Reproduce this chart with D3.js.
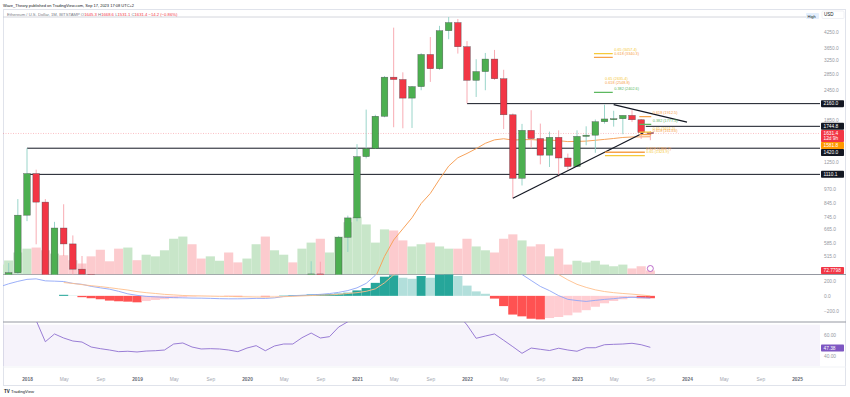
<!DOCTYPE html>
<html>
<head>
<meta charset="utf-8">
<script src="https://cdn.jsdelivr.net/npm/d3@7"></script>
<style>
  body { margin: 0; background: #fff; }
  text { font-family: "Liberation Sans", Arial, sans-serif; }
</style>
</head>
<body>
<div id="chart"></div>
<script>
// monthly ETH/USD, Oct 2017 .. Sep 2023 (index 0 = Oct 2017)
const open = [301, 305, 440,
  756, 1118, 855, 395, 670, 577, 455, 433, 282, 232, 198, 113,
  133, 107, 136, 141, 162, 268, 290, 218, 172, 180, 183, 151,
  130, 180, 218, 133, 206, 231, 225, 346, 435, 360, 386, 614,
  737, 1312, 1416, 1918, 2770, 2710, 2275, 2535, 3430, 3000, 4290, 4630,
  3690, 2690, 2920, 3285, 2730, 1945, 1070, 1680, 1555, 1330, 1573, 1295,
  1196, 1587, 1605, 1822, 1870, 1874, 1934, 1856, 1645.3];
const high = [350, 482, 880,
  1420, 1160, 880, 710, 838, 625, 515, 435, 300, 237, 222, 157,
  160, 165, 148, 185, 286, 365, 318, 240, 225, 199, 195, 155,
  185, 288, 253, 228, 227, 255, 348, 490, 488, 418, 622, 753,
  1475, 2042, 1945, 2800, 4415, 2900, 2550, 3470, 4040, 4490, 4880, 4790,
  3890, 3280, 3480, 3580, 2970, 1970, 1785, 2030, 1790, 1660, 1680, 1350,
  1680, 1745, 1860, 2140, 2020, 1930, 2030, 1870, 1668.6];
const low = [285, 283, 415,
  715, 575, 367, 363, 515, 415, 427, 250, 167, 190, 102, 81,
  101, 102, 127, 141, 155, 230, 190, 165, 152, 153, 131, 117,
  127, 179, 90, 130, 177, 215, 222, 345, 308, 335, 370, 535,
  714, 1290, 1410, 1900, 1730, 1713, 1718, 2450, 2650, 2970, 3960, 3460,
  2165, 2300, 2450, 2700, 1700, 887, 1000, 1420, 1220, 1190, 1085, 1160,
  1190, 1460, 1360, 1790, 1740, 1620, 1820, 1550, 1531.1];
const close = [305, 440, 756,
  1118, 855, 395, 670, 577, 455, 433, 282, 232, 198, 113, 133,
  107, 136, 141, 162, 268, 290, 218, 172, 180, 183, 151, 130,
  180, 218, 133, 206, 231, 225, 346, 435, 360, 386, 614, 737,
  1312, 1416, 1918, 2770, 2710, 2275, 2535, 3430, 3000, 4290, 4630, 3690,
  2690, 2920, 3285, 2730, 1945, 1070, 1680, 1555, 1330, 1573, 1295, 1196,
  1587, 1605, 1822, 1870, 1874, 1934, 1856, 1645.3, 1631.4];
// volume, thousands of ETH
const volume = [180, 255, 400,
  470, 490, 440, 380, 350, 260, 200, 330, 450, 240, 470, 490,
  260, 360, 330, 440, 650, 690, 550, 290, 330, 250, 400, 220,
  290, 550, 690, 440, 360, 220, 470, 580, 650, 400, 690, 950,
  1050, 910, 580, 820, 800, 620, 510, 550, 580, 510, 470, 470,
  650, 510, 440, 400, 650, 730, 620, 510, 550, 330, 470, 180,
  250, 220, 250, 180, 150, 180, 110, 150, 72.7798];
// moving average drawn in orange on the price pane
const ema = [null, null, null,
  null, null, null, null, null, null, null, null, null, null, null, null,
  null, null, null, null, null, null, null, null, null, null, null, null,
  null, null, null, null, null, null, null, null, null, null, null, null,
  null, 360, 421, 513, 599, 665, 738, 844, 928, 1060, 1200, 1298,
  1352, 1414, 1487, 1536, 1552, 1533, 1539, 1540, 1532, 1533, 1524, 1511,
  1514, 1518, 1530, 1543, 1556, 1571, 1578, 1580, 1581.8];
const macd = [121, 162, 195,
  222, 229, 202, 198, 193, 168, 155, 128, 108, 90, 61, 27,
  7, -7, -13, -20, -24, -27, -30, -31, -34, -38, -40, -40,
  -38, -34, -35, -27, -9, 0, 7, 13, 20, 31, 47, 71,
  108, 168, 276, 418, 520, 600, 640, 680, 720, 780, 840, 820,
  720, 660, 600, 540, 460, 377, 288, 207, 127, 70, 3, -47,
  -63, -75, -61, -48, -38, -24, -20, -24, -31];
const signal = [null, null, null,
  null, null, null, null, 179, 167, 151, 137, 125, 110, 94, 78,
  57, 43, 32, 20, 13, 5, 1, -1, -4, -7, -8, -11,
  -13, -15, -17, -15, -11, -7, -1, 4, 9, 13, 20, 32,
  43, 61, 94, 175, 283, 370, 440, 500, 560, 610, 650, 680,
  690, 680, 660, 630, 590, 540, 500, 460, 420, 350, 287, 215,
  155, 114, 81, 58, 43, 32, 23, 12, 0];
const hist = [null, null, null,
  null, null, null, null, 14, 4, -18, -32, -46, -64, -73, -78,
  -87, -70, -55, -45, -32, -18, -10, -5, -4, -3, -3, -8,
  -5, -3, -8, -4, 4, 8, 12, 18, 22, 24, 30, 42,
  73, 105, 175, 258, 276, 244, 230, 267, 244, 290, 313, 267,
  138, 60, 28, -37, -138, -252, -276, -308, -317, -299, -285, -262,
  -225, -193, -147, -100, -69, -46, -23, -32, -32];
const rsi = [null, null, null,
  84, 74, 53.5, 61, 57.1, 54.2, 53.2, 48.4, 46.8, 45.5, 43.9, 44.3,
  43.6, 44.5, 44.8, 45.5, 51.3, 52.3, 48.4, 46.5, 46.8, 46.5, 45.5, 43.9,
  47.4, 49.7, 44.8, 49.4, 51.3, 51.3, 57.4, 61.9, 57.1, 58.4, 67.7, 72.8,
  78, 80, 82, 85, 84, 80, 79, 83, 81, 85, 86, 80,
  69.7, 56.8, 59, 61, 54.9, 48.7, 42.3, 47.4, 46.2, 45, 47.2, 45.5,
  44.3, 47.7, 47.7, 50.6, 51, 51.3, 52, 50.6, 48.1, 47.38];

// time axis: every fourth month from Jan 2018
const tickLabels = ['2018', 'May', 'Sep', '2019', 'May', 'Sep', '2020', 'May', 'Sep',
  '2021', 'May', 'Sep', '2022', 'May', 'Sep', '2023', 'May', 'Sep', '2024', 'May', 'Sep', '2025'];
const priceTicks = [4250, 3650, 3250, 2850, 2450, 1850, 1250, 970, 845, 745, 665, 585, 515];
const macdTicks = [200, 0, -200];
const rsiTicks = [60, 40];

// drawn levels and trend lines (month index, price)
const levelPrices = [2160.0, 1744.8, 1420.0, 1110.1];
const levelStart = [51, 70.5, 3, 3];
const trendUpper = [[67, 2140], [75, 1814]];
const trendLower = [[56, 887], [70.2, 1639]];

// fibonacci labels
const fibLevels = ['0.65', '0.618', '0.65', '0.618', '0.382', '0.618', '0.382', '0.65', '0.618', '0.618', '0.65'];
const fibPrices = [3457.4, 3340.3, 2635.4, 2548.8, 2402.6, 1912.5, 1777.3, 1651.5, 1613.0, 1366.7, 1323.9];
const fibStart = [64.85, 64.85, null, null, 64.85, 69.8, 69.8, 69.8, 69.8, 66.05, 66.05];
const fibEnd = [66.9, 66.9, 65.9, 65.9, 66.9, 71.1, 71.1, 71.1, 71.1, 70.4, 70.4];

const width = 850;
const height = 397;
const plotL = 3, plotR = 820;
const mainTop = 9, mainBot = 274.5, macdBot = 322, rsiBot = 367;
const up = '#4caf50', down = '#f23645';
const fibColor = { '0.65': '#f5c93a', '0.618': '#f7a24a', '0.382': '#5cb85f' };

const svg = d3.select('#chart')
  .append('svg')
  .attr('width', width)
  .attr('height', height);

const x = d3.scaleLinear().domain([3, 63]).range([27, 577]);
const y = d3.scaleLog().domain([515, 4250]).range([256, 31.7]);
const vy = d3.scaleLinear().domain([0, 1000]).range([mainBot, mainBot - 55]);
const my = d3.scaleLinear().domain([-200, 200]).range([310.7, 281]);
const ry = d3.scaleLinear().domain([40, 60]).range([355.7, 335]);
const step = x(1) - x(0);
const idx = d3.range(close.length);

const defs = svg.append('defs');
[['clip-main', mainTop, mainBot], ['clip-macd', mainBot, macdBot], ['clip-rsi', macdBot, rsiBot]]
  .forEach(([id, t, b]) => {
    defs.append('clipPath').attr('id', id)
      .append('rect').attr('x', plotL).attr('y', t).attr('width', plotR - plotL).attr('height', b - t);
  });

// header
svg.append('text').attr('x', 3).attr('y', 6.5)
  .style('font-size', '4px').style('fill', '#131722')
  .text('Wave_Theory published on TradingView.com, Sep 17, 2023 17:08 UTC+2');

const legend = svg.append('text').attr('x', 7).attr('y', 16)
  .style('font-size', '4.2px').style('fill', '#787b86');
legend.append('tspan').text('Ethereum / U.S. Dollar, 1M, BITSTAMP  ');
[['O', '1645.3'], ['H', '1668.6'], ['L', '1531.1'], ['C', '1631.4']].forEach(([k, v]) => {
  legend.append('tspan').text(k);
  legend.append('tspan').style('fill', down).text(v + '  ');
});
legend.append('tspan').style('fill', down).text('\u221214.2 (\u22120.86%)');

// frame and pane separators
svg.append('rect').attr('x', 3.5).attr('y', 9.5).attr('width', 842).attr('height', 376)
  .attr('fill', 'none').attr('stroke', '#e0e3eb').attr('stroke-width', 1);
[mainBot, macdBot].forEach(v => {
  svg.append('line').attr('x1', 3).attr('x2', 846).attr('y1', v).attr('y2', v)
    .attr('stroke', '#9598a1').attr('stroke-width', 1);
});

// ---------- main pane ----------
const main = svg.append('g').attr('clip-path', 'url(#clip-main)');

main.selectAll('.vol')
  .data(idx)
  .enter()
  .append('rect')
  .attr('class', 'vol')
  .attr('x', i => x(i) - step / 2)
  .attr('width', step)
  .attr('y', i => vy(volume[i]))
  .attr('height', i => mainBot - vy(volume[i]))
  .attr('fill', i => close[i] >= open[i] ? '#c8e6c9' : '#fccbce');

// all-time high marker line
main.append('line')
  .attr('x1', plotL).attr('x2', 806)
  .attr('y1', y(d3.max(high))).attr('y2', y(d3.max(high)))
  .attr('stroke', '#c9ccd4').attr('stroke-width', 0.8);

// last price line
main.append('line')
  .attr('x1', plotL).attr('x2', plotR)
  .attr('y1', y(close[close.length - 1])).attr('y2', y(close[close.length - 1]))
  .attr('stroke', down).attr('stroke-opacity', 0.45).attr('stroke-width', 0.7)
  .attr('stroke-dasharray', '1,1.5');

main.selectAll('.level')
  .data(levelPrices)
  .enter()
  .append('line')
  .attr('class', 'level')
  .attr('x1', (d, i) => x(levelStart[i]))
  .attr('x2', plotR)
  .attr('y1', d => y(d))
  .attr('y2', d => y(d))
  .attr('stroke', '#131722')
  .attr('stroke-width', 1);

main.append('path')
  .datum(idx.filter(i => ema[i] != null))
  .attr('fill', 'none')
  .attr('stroke', '#f7a35c')
  .attr('stroke-width', 1)
  .attr('d', d3.line().x(i => x(i)).y(i => y(ema[i])));

const candles = main.selectAll('.candle')
  .data(idx)
  .enter()
  .append('g')
  .attr('class', 'candle');

candles.append('line')
  .attr('x1', i => x(i)).attr('x2', i => x(i))
  .attr('y1', i => y(high[i])).attr('y2', i => y(low[i]))
  .attr('stroke', i => close[i] >= open[i] ? '#8fd0c4' : '#f7a3ab')
  .attr('stroke-width', 0.9);

candles.append('rect')
  .attr('x', i => x(i) - 3.3)
  .attr('width', 6.6)
  .attr('y', i => y(Math.max(open[i], close[i])))
  .attr('height', i => Math.max(1, y(Math.min(open[i], close[i])) - y(Math.max(open[i], close[i]))))
  .attr('fill', i => close[i] >= open[i] ? up : down)
  .attr('stroke', '#3d3f45')
  .attr('stroke-opacity', 0.7)
  .attr('stroke-width', 0.5);

[trendUpper, trendLower].forEach(t => {
  main.append('line')
    .attr('x1', x(t[0][0])).attr('y1', y(t[0][1]))
    .attr('x2', x(t[1][0])).attr('y2', y(t[1][1]))
    .attr('stroke', '#131722').attr('stroke-width', 1.2);
});

fibPrices.forEach((p, i) => {
  const c = fibColor[fibLevels[i]];
  if (fibStart[i] != null) {
    main.append('line')
      .attr('x1', x(fibStart[i])).attr('x2', x(fibEnd[i]))
      .attr('y1', y(p)).attr('y2', y(p))
      .attr('stroke', c).attr('stroke-width', 1.3);
  }
  main.append('text')
    .attr('x', x(fibEnd[i]) + 1.5)
    .attr('y', y(p) - 2.5)
    .style('font-size', '3.8px')
    .style('fill', c)
    .text(`${fibLevels[i]} (${p.toFixed(1)})`);
});

// event marker
main.append('circle')
  .attr('cx', x(close.length - 1)).attr('cy', 268.5).attr('r', 3)
  .attr('fill', '#fff').attr('stroke', '#ab47bc').attr('stroke-width', 0.8);

// ---------- MACD pane ----------
const macdG = svg.append('g').attr('clip-path', 'url(#clip-macd)');

macdG.selectAll('.hist')
  .data(idx.filter(i => hist[i] != null))
  .enter()
  .append('rect')
  .attr('class', 'hist')
  .attr('x', i => x(i) - step / 2)
  .attr('width', step)
  .attr('y', i => my(Math.max(0, hist[i])))
  .attr('height', i => Math.abs(my(hist[i]) - my(0)))
  .attr('fill', i => {
    const prev = hist[i - 1] == null ? 0 : hist[i - 1];
    if (hist[i] >= 0) return hist[i] > prev ? '#26a69a' : '#b2dfdb';
    return hist[i] <= prev ? '#ff5252' : '#ffcdd2';
  });

macdG.append('path')
  .datum(idx)
  .attr('fill', 'none')
  .attr('stroke', '#8fa6f7')
  .attr('stroke-width', 0.9)
  .attr('d', d3.line().x(i => x(i)).y(i => my(macd[i])));

macdG.append('path')
  .datum(idx.filter(i => signal[i] != null))
  .attr('fill', 'none')
  .attr('stroke', '#ffbf8c')
  .attr('stroke-width', 0.9)
  .attr('d', d3.line().x(i => x(i)).y(i => my(signal[i])));

// ---------- RSI pane ----------
const rsiG = svg.append('g').attr('clip-path', 'url(#clip-rsi)');

rsiG.append('rect')
  .attr('x', plotL).attr('width', plotR - plotL)
  .attr('y', ry(70)).attr('height', ry(30) - ry(70))
  .attr('fill', '#7e57c2').attr('fill-opacity', 0.07);

rsiG.append('path')
  .datum(idx.filter(i => rsi[i] != null))
  .attr('fill', 'none')
  .attr('stroke', '#8e6fd0')
  .attr('stroke-width', 0.9)
  .attr('d', d3.line().x(i => x(i)).y(i => ry(rsi[i])));

// ---------- axes ----------
function styleAxis(g, color) {
  g.select('.domain').remove();
  g.selectAll('line').remove();
  g.selectAll('text')
    .style('font-size', '4.8px')
    .style('fill', color)
    .style('font-family', '"Liberation Sans", Arial, sans-serif');
}

svg.append('g')
  .attr('transform', 'translate(822,0)')
  .call(d3.axisRight(y).tickValues(priceTicks).tickFormat(d3.format('.1f')).tickSize(0).tickPadding(2))
  .call(g => styleAxis(g, '#9598a1'));

svg.append('g')
  .attr('transform', 'translate(822,0)')
  .call(d3.axisRight(my).tickValues(macdTicks)
    .tickFormat(d => d3.format('.1f')(d).replace('-', '\u2212')).tickSize(0).tickPadding(2))
  .call(g => styleAxis(g, '#9598a1'));

svg.append('g')
  .attr('transform', 'translate(822,0)')
  .call(d3.axisRight(ry).tickValues(rsiTicks).tickFormat(d3.format('.2f')).tickSize(0).tickPadding(2))
  .call(g => styleAxis(g, '#9598a1'));

const tAxis = svg.append('g')
  .attr('transform', 'translate(0,378)')
  .call(d3.axisBottom(x).tickValues(tickLabels.map((d, i) => 3 + 4 * i))
    .tickFormat((d, i) => tickLabels[i]).tickSize(0).tickPadding(0));
styleAxis(tAxis, '#9598a1');
tAxis.selectAll('text')
  .style('fill', (d, i) => /\d/.test(tickLabels[i]) ? '#6a6d78' : '#a3a6af')
  .style('font-weight', (d, i) => /\d/.test(tickLabels[i]) ? 'bold' : 'normal');

svg.append('line').attr('x1', 3).attr('x2', 846).attr('y1', rsiBot).attr('y2', rsiBot)
  .attr('stroke', '#eef0f4').attr('stroke-width', 0.8);

// price labels on the axis
const boxes = [
  { v: 2160.0, fill: '#131722', rows: ['2160.0'], sy: y },
  { v: 1744.8, fill: '#131722', rows: ['1744.8'], sy: y },
  { v: 1631.4, fill: down, rows: ['1631.4', '12d 9h'], sy: y },
  { v: ema[ema.length - 1], fill: '#ff9800', rows: ['1581.8'], sy: y },
  { v: 1420.0, fill: '#131722', rows: ['1420.0'], sy: y },
  { v: 1110.1, fill: '#131722', rows: ['1110.1'], sy: y },
  { v: volume[volume.length - 1], fill: down, rows: ['72.7798'], sy: vy },
  { v: rsi[rsi.length - 1], fill: '#7e57c2', rows: ['47.38'], sy: ry }
];
let prevBottom = -Infinity;
boxes.forEach(b => {
  const hBox = 7 + (b.rows.length - 1) * 5;
  let top = b.sy(b.v) - 3.5;
  if (b.sy === y) { top = Math.max(top, prevBottom); prevBottom = top + hBox; }
  svg.append('rect').attr('x', 821).attr('y', top).attr('width', 23).attr('height', hBox)
    .attr('rx', 0.8).attr('fill', b.fill);
  b.rows.forEach((r, k) => {
    svg.append('text').attr('x', 823.5).attr('y', top + 5.2 + k * 5)
      .style('font-size', '4.8px').style('fill', '#fff').text(r);
  });
});

// High / USD tags
svg.append('rect').attr('x', 806).attr('y', 13).attr('width', 13).attr('height', 6)
  .attr('rx', 1).attr('fill', '#e3effd');
svg.append('text').attr('x', 807.5).attr('y', 17.6)
  .style('font-size', '4px').style('fill', '#131722').text('High');
svg.append('rect').attr('x', 822).attr('y', 11).attr('width', 22).attr('height', 7.5)
  .attr('rx', 1).attr('fill', '#fff').attr('stroke', '#e0e3eb').attr('stroke-width', 0.5);
svg.append('text').attr('x', 824).attr('y', 16.4)
  .style('font-size', '4.5px').style('fill', '#131722').text('USD');

// footer logo
svg.append('text').attr('x', 4).attr('y', 392.5)
  .style('font-size', '4.5px').style('font-weight', 'bold').style('fill', '#131722').text('TV');
svg.append('text').attr('x', 11).attr('y', 392.5)
  .style('font-size', '4.2px').style('fill', '#131722').text('TradingView');
</script>
</body>
</html>
